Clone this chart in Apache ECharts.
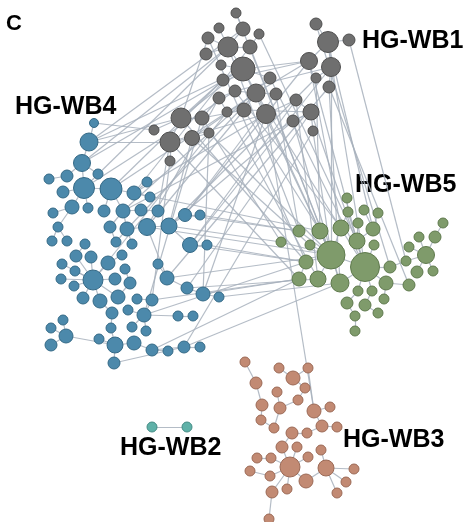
<!DOCTYPE html>
<html>
<head>
<meta charset="utf-8">
<script src="https://cdn.jsdelivr.net/npm/echarts@6/dist/echarts.min.js"></script>
<style>
  html, body { margin: 0; padding: 0; background: #ffffff; }
  #chart { width: 469px; height: 522px; }
</style>
</head>
<body>
<div id="chart"></div>
<script>
// Community layout: each node is [x, y, weight]; weight sets the circle radius.
const clusterNames = ['HG-WB1', 'HG-WB2', 'HG-WB3', 'HG-WB4', 'HG-WB5'];

// HG-WB1 (grey)
const wb1Nodes = [
  [236,13,5],[219,28,5],[243,29,7],[259,34,5],[208,38,6],[228,47,10],[250,47,7],
  [206,54,6],[221,65,5],[243,69,12],[270,78,6],[223,80,6],[235,91,6],[256,93,9],
  [276,94,6],[219,98,6],[227,112,5],[244,110,7],[266,114,9.5],[296,100,6],
  [311,112,8],[293,121,6],[313,131,5],[316,24,6],[328,42,10.5],[349,40,6],
  [309,61,8.5],[331,67,9.5],[316,78,5],[329,87,6],[181,118,10],[202,118,7],
  [154,130,5],[170,142,10],[192,138,7.5],[209,133,5],[170,161,5]
];

// HG-WB4 (blue)
const wb4Nodes = [
  [94,123,4.5],[89,142,9],[82,163,8.5],[49,179,5],[67,176,6],[98,174,5],[84,188,10.5],
  [111,189,11],[63,192,6],[134,193,7],[147,182,5],[150,197,5],[72,207,7],[88,208,5],
  [53,213,5],[104,211,6],[123,211,7],[141,210,6],[158,211,6],[185,215,6.5],[200,215,5],
  [58,227,5],[110,227,6],[127,229,7],[147,227,8.5],[169,226,8],[52,241,5],[67,241,5],
  [85,244,5],[116,242,5],[132,244,5],[190,245,7.5],[207,245,5],[76,256,6],[91,257,6],
  [108,263,7],[122,255,5],[62,264,5],[75,271,5],[93,280,10],[125,269,5],[158,264,5],
  [167,278,7],[61,279,5],[74,286,5],[115,279,6],[130,283,6],[187,288,6],[203,294,7],
  [219,297,5],[83,298,6],[100,301,7],[118,297,7],[137,299,5],[152,300,6],[112,313,6],
  [128,310,5],[144,315,7],[178,316,5],[193,316,5],[63,320,5],[51,328,5],[66,336,7],
  [111,328,5],[132,327,5],[146,331,5],[51,345,6],[99,339,5],[115,345,8],[134,343,7],
  [152,350,6],[168,351,5],[184,347,6],[200,347,5],[114,363,6]
];

// HG-WB5 (green)
const wb5Nodes = [
  [347,198,5],[348,212,5],[364,210,5],[378,213,5],[358,223,5],[299,231,6],[320,231,8],
  [341,228,8],[373,229,7],[281,242,5],[310,245,5],[357,241,8],[374,245,5],[331,255,14],
  [306,262,7],[365,267,14.5],[299,279,7],[318,279,8],[340,283,9],[390,267,6],[386,283,7],
  [358,291,5],[372,291,5],[347,303,6],[365,305,6],[384,299,5],[355,316,5],[378,313,5],
  [355,331,5],[409,285,6],[406,261,5],[409,247,5],[419,237,5],[435,237,6],[443,223,5],
  [426,255,8.5],[417,272,6],[433,271,5]
];

// HG-WB3 (brown)
const wb3Nodes = [
  [245,362,5],[279,368,5],[293,378,7],[308,368,5],[256,383,6],[277,392,5],[305,388,5],
  [298,400,5],[262,405,6],[280,408,6],[314,411,7],[330,407,5],[261,420,5],[274,428,5],
  [292,433,6],[307,433,5],[322,426,6],[337,427,5],[282,447,6],[297,447,5],[321,450,5],
  [257,458,5],[271,458,5],[290,467,10],[308,457,5],[326,468,8],[250,471,5],[270,476,5],
  [306,481,7],[287,489,5],[272,492,6],[354,469,5],[346,482,5],[337,493,5],[269,519,5]
];

// HG-WB2 (teal)
const wb2Nodes = [[152,427,5],[187,427,5]];

// Edges by node id: a = HG-WB1, b = HG-WB4, v = HG-WB5, r = HG-WB3, t = HG-WB2
const wb1Edges = [
  'a0-a2','a2-a5','a1-a5','a4-a5','a7-a5','a5-a6','a3-a6','a5-a9','a8-a9','a9-a10',
  'a9-a11','a9-a13','a12-a13','a13-a14','a13-a17','a13-a18','a15-a16','a15-a12','a16-a17',
  'a18-a19','a19-a20','a20-a21','a20-a22','a23-a24','a24-a25','a24-a26','a24-a27',
  'a27-a28','a27-a29','a30-a31','a30-a32','a30-a33','a33-a34','a33-a36','a34-a35',
  'a9-a26','a13-a26','a30-a11','a31-a15','a30-a9','a34-a13','a33-a18','a31-a17',
  'a17-a20','a11-a26','a12-a27','a4-a30'
];
const wb4Edges = [
  'b0-b1','b1-b2','b2-b6','b2-b4','b2-b5','b4-b3','b6-b8','b6-b7','b6-b12','b6-b13',
  'b7-b9','b7-b15','b7-b16','b9-b10','b9-b11','b16-b17','b16-b22','b17-b18','b12-b14',
  'b12-b21','b21-b26','b21-b27','b22-b29','b23-b24','b24-b25','b23-b29','b23-b30',
  'b25-b19','b19-b20','b31-b32','b25-b31','b39-b33','b39-b34','b39-b35','b39-b37',
  'b39-b38','b39-b43','b39-b44','b39-b45','b39-b50','b39-b51','b39-b52','b35-b36',
  'b33-b28','b46-b52','b46-b40','b42-b41','b47-b48','b48-b49','b54-b53','b57-b56',
  'b57-b64','b57-b65','b58-b59','b68-b63','b68-b67','b68-b69','b68-b74','b62-b60',
  'b62-b61','b62-b66','b51-b55','b70-b71','b72-b73','b62-b68','b69-b70','b54-b57',
  'b42-b47','b16-b23','b24-b42','b55-b63','b57-b58','b74-b72','b70-b72'
];
const wb5Edges = [
  'v13-v5','v13-v6','v13-v7','v13-v10','v13-v14','v13-v17','v13-v18','v13-v15','v13-v9',
  'v15-v11','v15-v12','v15-v19','v15-v20','v15-v21','v15-v22','v15-v18','v11-v4','v11-v1',
  'v8-v3','v8-v2','v7-v1','v0-v1','v14-v16','v23-v21','v23-v26','v26-v28','v24-v22',
  'v24-v27','v25-v20','v35-v31','v35-v32','v35-v33','v35-v30','v35-v36','v35-v37',
  'v33-v34','v19-v30','v20-v29','v8-v11'
];
const wb3Edges = [
  'r0-r4','r4-r8','r8-r12','r1-r2','r2-r3','r2-r6','r5-r9','r7-r9','r9-r13','r3-r10',
  'r10-r11','r10-r16','r16-r17','r16-r15','r14-r15','r14-r18','r23-r18','r23-r19',
  'r23-r22','r22-r21','r23-r27','r23-r29','r23-r30','r23-r24','r25-r20','r25-r28',
  'r25-r31','r25-r32','r25-r33','r30-r34','r23-r28','r26-r27','r7-r6','r12-r13'
];
const wb2Edges = ['t0-t1'];

// Links between communities
const crossEdges = [
  'a30-b1','a33-b1','a32-b0','a9-b1','a5-b2','a12-b6','a13-b7','a18-b9','a20-b16',
  'a17-b24','a21-b25','a26-b19','a27-b31','a29-b42','a18-b48','a20-b47','a13-b23',
  'a16-b39','a33-b18','a34-b25','a15-b24','a11-b7','a36-b54','a31-b57','a22-b72',
  'a9-b2','a5-b6','a6-b9','a14-b19','a19-b31','a28-b25','a10-b16','a2-b1','a35-b48',
  'a9-v13','a13-v15','a18-v13','a17-v6','a12-v7','a30-v14','a33-v16','a34-v10',
  'a31-v9','a24-v15','a27-v13','a26-v11','a29-v29','a28-v6','a20-v15','a21-v18',
  'a22-v13','a19-v17','a14-v5','a10-v15','a6-v13','a5-v5','a16-v17','a35-v13',
  'a4-v14','a25-v30','a29-v18','a26-v7','a24-v8','a23-v19','a0-v13','a3-v11',
  'b48-v16','b31-v14','b25-v9','b19-v5','b47-v17','b54-v16','b72-v18','b42-v13',
  'b57-v14','b70-v16','b24-v13','b9-v6','b20-v5','b49-v18','b32-v14',
  'a18-r10'
];

const palette = {
  a: { color: '#6f6f6f', border: '#505050' },
  b: { color: '#4c89ab', border: '#356a87' },
  v: { color: '#7f9b6b', border: '#5f7a4d' },
  r: { color: '#c28a73', border: '#9c6a56' },
  t: { color: '#5fb1a8', border: '#458d86' }
};

function buildNodes(prefix, list) {
  return list.map(function (n, i) {
    return {
      name: prefix + i,
      value: [n[0], n[1]],
      symbolSize: n[2] * 2,
      itemStyle: {
        color: palette[prefix].color,
        borderColor: palette[prefix].border,
        borderWidth: 1
      }
    };
  });
}

function buildLinks(list) {
  return list.map(function (e) {
    const p = e.split('-');
    return { source: p[0], target: p[1] };
  });
}

const nodes = [].concat(
  buildNodes('a', wb1Nodes),
  buildNodes('b', wb4Nodes),
  buildNodes('v', wb5Nodes),
  buildNodes('r', wb3Nodes),
  buildNodes('t', wb2Nodes)
);
const links = buildLinks([].concat(wb1Edges, wb4Edges, wb5Edges, wb3Edges, wb2Edges, crossEdges));

const labelStyle = { fontFamily: 'Liberation Sans, Arial, sans-serif', fontWeight: 'bold', fontSize: 25, fill: '#000' };
function label(text, x, y) {
  return {
    type: 'text', left: x, top: y,
    style: Object.assign({ text: text }, labelStyle)
  };
}

const chart = echarts.init(document.getElementById('chart'), null, { renderer: 'canvas' });
chart.setOption({
  animation: false,
  backgroundColor: '#ffffff',
  grid: { left: 0, right: 0, top: 0, bottom: 0 },
  xAxis: { type: 'value', min: 0, max: 469, show: false },
  yAxis: { type: 'value', min: 0, max: 522, inverse: true, show: false },
  series: [{
    type: 'graph',
    coordinateSystem: 'cartesian2d',
    layout: 'none',
    data: nodes,
    links: links,
    lineStyle: { color: '#a7b0bc', width: 1.2, opacity: 0.85, curveness: 0 },
    emphasis: { disabled: true },
    label: { show: false }
  }],
  graphic: [
    { type: 'text', left: 6, top: 13,
      style: { text: 'C', fontFamily: 'Liberation Sans, Arial, sans-serif', fontWeight: 'bold', fontSize: 22, fill: '#000' } },
    label(clusterNames[3], 15, 95),
    label(clusterNames[0], 362, 29),
    label(clusterNames[4], 355, 173),
    label(clusterNames[2], 343, 428),
    label(clusterNames[1], 120, 436)
  ]
});
</script>
</body>
</html>
